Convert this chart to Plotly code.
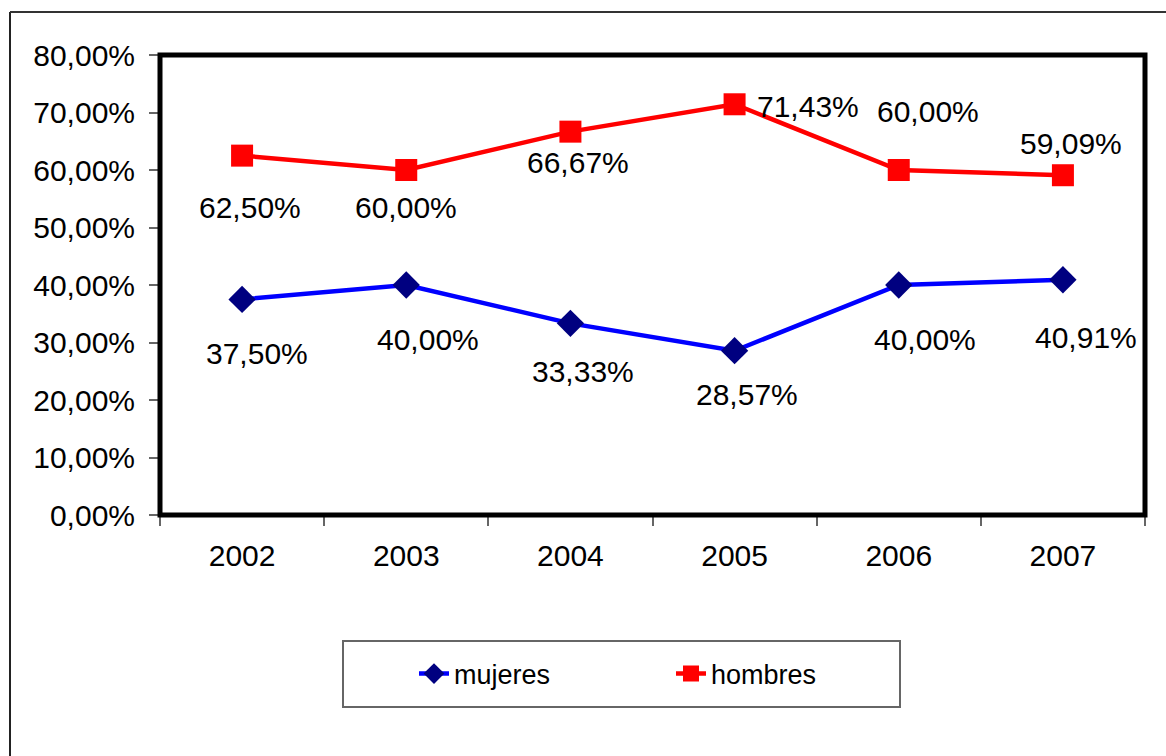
import plotly.graph_objects as go

years = ["2002", "2003", "2004", "2005", "2006", "2007"]
mujeres = [0.3750, 0.4000, 0.3333, 0.2857, 0.4000, 0.4091]
hombres = [0.6250, 0.6000, 0.6667, 0.7143, 0.6000, 0.5909]

# label offsets in pixels (dx, dy down-positive), style only
muj_dx = [15, 22, 13, 12, 26, 23]
muj_dy = [54, 54, 48, 44, 54, 58]
hom_dx = [8, 0, 8, 73, 29, 8]
hom_dy = [52, 37, 31, 2, -59, -32]

W, H = 1166, 756
L, R, T, B = 160, 21, 55, 241
pw, ph = W - L - R, H - T - B

def px(x):
    return (x - L) / pw

def py(y):
    return (H - B - y) / ph

FONT = "Liberation Sans, Arial, sans-serif"

fig = go.Figure()
fig.add_trace(go.Scatter(
    x=years, y=mujeres, name="mujeres", mode="lines+markers",
    line=dict(color="#0000FF", width=4.5),
    marker=dict(symbol="diamond", size=21, color="#000080"),
))
fig.add_trace(go.Scatter(
    x=years, y=hombres, name="hombres", mode="lines+markers",
    line=dict(color="#FF0000", width=4.5),
    marker=dict(symbol="square", size=22, color="#FF0000"),
))

def pct(v):
    return f"{v*100:.2f}%".replace(".", ",")

for vals, dxs, dys in [(mujeres, muj_dx, muj_dy), (hombres, hom_dx, hom_dy)]:
    for i, (v, dx, dy) in enumerate(zip(vals, dxs, dys)):
        fig.add_annotation(
            x=i, y=v, xref="x", yref="y", text=pct(v), showarrow=False,
            xanchor="center", yanchor="middle", xshift=dx, yshift=-dy,
            font=dict(family=FONT, size=30, color="black"),
        )

# plot-area frame (centred on the plot edges)
fig.add_shape(type="rect", xref="paper", yref="paper", x0=0, x1=1, y0=0, y1=1,
              line=dict(color="black", width=5), fillcolor="rgba(0,0,0,0)")
# outer chart border (left and top visible)
fig.add_shape(type="line", xref="paper", yref="paper", x0=px(10), x1=px(10), y0=py(12), y1=py(770),
              line=dict(color="#222", width=2))
fig.add_shape(type="line", xref="paper", yref="paper", x0=px(10), x1=px(1180), y0=py(12), y1=py(12),
              line=dict(color="#333", width=2))
# legend box
fig.add_shape(type="rect", xref="paper", yref="paper", x0=px(343), x1=px(900), y0=py(641), y1=py(707),
              line=dict(color="#666", width=2), fillcolor="rgba(0,0,0,0)")

fig.update_layout(
    width=W, height=H,
    margin=dict(l=L, r=R, t=T, b=B),
    paper_bgcolor="white", plot_bgcolor="white",
    font=dict(family=FONT, size=30, color="black"),
    separators=",.",
    showlegend=True,
    legend=dict(
        orientation="h", x=px(414), y=py(674), xanchor="left", yanchor="middle",
        font=dict(family=FONT, size=27, color="black"),
        entrywidth=212, entrywidthmode="pixels",
        bgcolor="rgba(0,0,0,0)", borderwidth=0,
    ),
    xaxis=dict(
        type="category", range=[-0.5, 5.5], tickson="boundaries",
        ticks="outside", ticklen=10, tickcolor="#666", tickwidth=2,
        showline=False, showgrid=False, zeroline=False, ticklabelstandoff=20,
        tickfont=dict(family=FONT, size=30),
    ),
    yaxis=dict(
        range=[0, 0.8], dtick=0.1, tickformat=".2%",
        ticks="outside", ticklen=10, tickcolor="#666", tickwidth=2,
        showline=False, showgrid=False, zeroline=False, ticklabelstandoff=8,
        tickfont=dict(family=FONT, size=30),
    ),
)

fig.write_html("out.html")
